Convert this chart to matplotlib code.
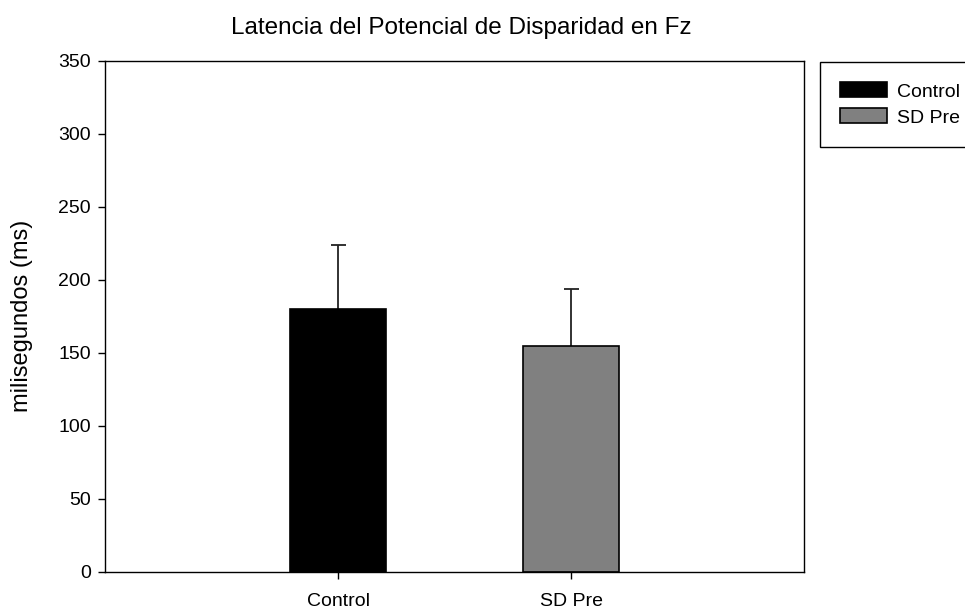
import matplotlib.pyplot as plt

plt.rcParams['font.family'] = ['Liberation Sans', 'DejaVu Sans']

groups = ['Control', 'SD Pre']
means = [179.7, 154.6]
errs = [44.3, 39.0]
colors = ['#000000', '#808080']

fig = plt.figure(figsize=(9.65, 6.11), dpi=100)
ax = fig.add_axes([0.1088, 0.0643, 0.7244, 0.8364])

pos = list(range(len(groups)))
bars = ax.bar(pos, means, width=0.41, color=colors, edgecolor='black',
              linewidth=1.2, zorder=2)
eb = ax.errorbar(pos, means, yerr=[[0] * len(errs), errs], fmt='none',
                 ecolor='#222222', elinewidth=1.3, capsize=5.4, capthick=1.3,
                 zorder=1.5)
eb[1][0].set_visible(False)  # no lower cap

ax.set_xlim(-1, 2)
ax.set_ylim(0, 350)
ax.set_yticks(range(0, 351, 50))
ax.set_xticks(pos)
ax.set_xticklabels(groups)
ax.tick_params(axis='both', direction='out', length=5, width=1,
               labelsize=14, top=False, right=False)
ax.tick_params(axis='y', pad=5)
ax.tick_params(axis='x', pad=10)
for s in ax.spines.values():
    s.set_linewidth(1.0)

ax.set_ylabel('milisegundos (ms)', fontsize=17, labelpad=18)
ax.set_title('Latencia del Potencial de Disparidad en Fz', fontsize=17.5,
             pad=19, x=0.51)

leg = ax.legend(bars, groups, loc='upper left',
                bbox_to_anchor=(820 / 965, 0, 0.2, (611 - 62) / 611),
                bbox_transform=fig.transFigure, mode='expand', borderaxespad=0,
                fontsize=14, handlelength=2.37, handleheight=0.8,
                handletextpad=0.52, labelspacing=0.4, borderpad=1.05,
                fancybox=False, shadow=False, framealpha=1, edgecolor='black')
leg.get_frame().set_linewidth(1.0)

fig.savefig('out.png', dpi=100)
